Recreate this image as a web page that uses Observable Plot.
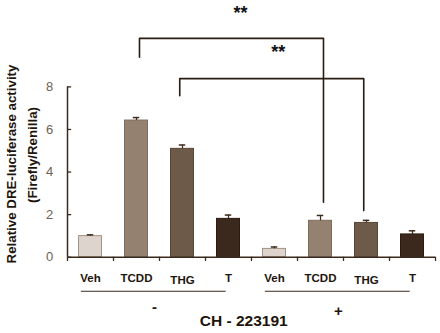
<!DOCTYPE html>
<html><head><meta charset="utf-8">
<script src="https://cdn.jsdelivr.net/npm/d3@7"></script>
<script src="https://cdn.jsdelivr.net/npm/@observablehq/plot@0.6"></script>
<style>
body{margin:0;background:#fff;}
#chart{position:relative;width:440px;height:333px;}
</style>
</head><body><div id="chart"></div>
<script>
const treatments = ["Veh","TCDD","THG","T","Veh","TCDD","THG","T"];
const chGroup = ["-","-","-","-","+","+","+","+"];
const means = [0.99, 6.42, 5.09, 1.80, 0.39, 1.71, 1.61, 1.07];
const errs = [0.06, 0.14, 0.18, 0.18, 0.09, 0.25, 0.12, 0.17];
const fills = ["#ddd5cd","#948170","#6d5a49","#3a291c"];
const strokes = ["#a39384","#7f6d5c","#594736","#2a1c12"];
const yTicks = [0,2,4,6,8];
const groupLabels = ["-","+"];
const xTitle = "CH - 223191";
const yTitle1 = "Relative DRE-luciferase activity";
const yTitle2 = "(Firefly/Renilla)";
// significance brackets: from bar index to bar index, top level, left leg end, right leg end
const brackets = [
  {from:1, to:5, top:10.28, leftEnd:9.39, rightEnd:2.58, label:"**"},
  {from:2, to:6, top:8.39, leftEnd:7.59, rightEnd:2.19, label:"**"}
];

const bars = treatments.map((t,i)=>({i, t, g: chGroup[i], m: means[i], e: errs[i], c: i%4}));
const bOff = [0.065, -0.06];
const bracketPaths = brackets.flatMap((b,k)=>[
  {k, x: b.from+0.5+bOff[k], y: b.leftEnd},
  {k, x: b.from+0.5+bOff[k], y: b.top},
  {k, x: b.to+0.5+bOff[k], y: b.top},
  {k, x: b.to+0.5+bOff[k], y: b.rightEnd}
]);
const groupRanges = [{g:groupLabels[0], x1:0, x2:4},{g:groupLabels[1], x1:4, x2:8}];

const axisColor = "#3a2a1c";
const dark = "#1e140c";
const plot = Plot.plot({
  width: 440, height: 333,
  marginLeft: 67, marginRight: 5, marginTop: 0, marginBottom: 0,
  style: {fontFamily: "Liberation Sans, Arial, sans-serif", color: axisColor, background:"#fff", overflow:"visible"},
  x: {type:"linear", domain:[0,8], range:[67,435], axis:null},
  y: {domain:[0,8], range:[256.7, 86.4], axis:null},
  marks: [
    Plot.rectY(bars, {x1: d=>d.i+0.25, x2: d=>d.i+0.75, y: "m", fill: d=>fills[d.c], stroke: d=>strokes[d.c], strokeWidth:1}),
    Plot.ruleX(bars, {x: d=>d.i+0.5, y1:"m", y2: d=>d.m+d.e, stroke: axisColor, strokeWidth:1.2}),
    Plot.ruleY(bars, {x1: d=>d.i+0.43, x2: d=>d.i+0.57, y: d=>d.m+d.e, stroke: axisColor, strokeWidth:1.5}),
    // y axis
    Plot.ruleX([0], {y1:0, y2:8, stroke: axisColor, strokeWidth:1.5}),
    Plot.ruleY(yTicks, {x1: 0, x2: 0.09, y: d=>d, stroke: axisColor, strokeWidth:1.3}),
    Plot.text(yTicks, {x: 0, y: d=>d, text: d=>String(d), dx:-18, fontSize:13, fill:"#6e6152", textAnchor:"middle"}),
    // x axis
    Plot.ruleY([0], {x1:0, x2:8, stroke: axisColor, strokeWidth:1.5}),
    Plot.ruleX(d3.range(9), {x: d=>d, y1:0, y2:-0.2, stroke: axisColor, strokeWidth:1.3}),
    // category labels
    Plot.text(bars, {x: d=>d.i+0.5, y: d=> d.t==="THG" ? -1.1 : -0.98, text:"t", fontSize:11.5, fontWeight:"bold", fill:dark}),
    Plot.ruleY(groupRanges, {x1: d=>d.x1+0.3, x2: d=>d.x2-0.55, y:-1.6, stroke:"#3a2a1c", strokeWidth:1}),
    Plot.text(groupRanges, {x: d=> d.x1 + 1.89, y: d=> d.x1===0 ? -2.36 : -2.55, text:"g", fontSize:15, fontWeight:"bold", fill:dark}),
    Plot.text([xTitle], {x: 3.83, y:-3.0, text: d=>d, fontSize:15.5, fontWeight:"bold", fill:dark}),
    // brackets
    Plot.line(bracketPaths, {x:"x", y:"y", z:"k", stroke:"#2a1c12", strokeWidth:1.6}),
    Plot.text(brackets, {x: d=> d.from===1 ? 3.76 : 4.58, y: d=> d.from===1 ? 11.44 : 9.61, text:"label", fontSize:18, fontWeight:"bold", fill:"#111"}),
  ]
});
document.getElementById("chart").appendChild(plot);
const svg = d3.select(plot);
svg.append("text").attr("transform","translate(12,164) rotate(-90)").attr("text-anchor","middle").attr("dominant-baseline","middle")
  .attr("font-size",13.3).attr("font-weight","bold").attr("fill",dark).attr("font-family","Liberation Sans, Arial, sans-serif").text(yTitle1);
svg.append("text").attr("transform","translate(33,155) rotate(-90)").attr("text-anchor","middle").attr("dominant-baseline","middle")
  .attr("font-size",13.3).attr("font-weight","bold").attr("fill",dark).attr("font-family","Liberation Sans, Arial, sans-serif").text(yTitle2);
</script>
</body></html>
